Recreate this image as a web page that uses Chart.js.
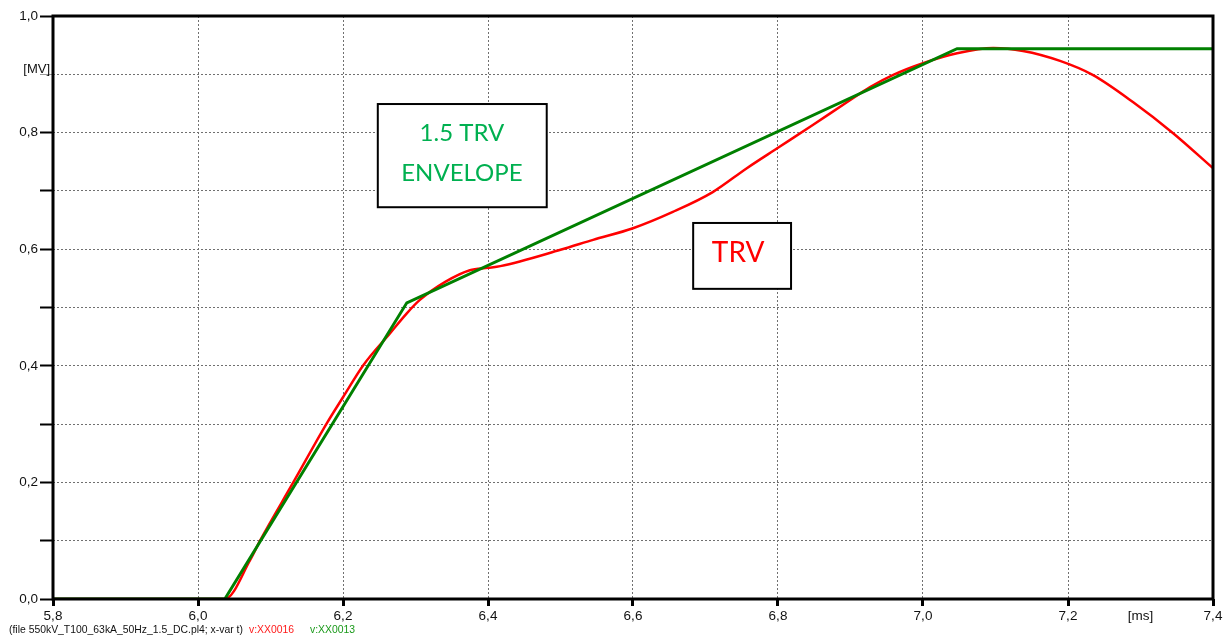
<!DOCTYPE html>
<html>
<head>
<meta charset="utf-8">
<script src="https://cdn.jsdelivr.net/npm/chart.js@4.4.1/dist/chart.umd.min.js"></script>
<style>
  html, body { margin: 0; padding: 0; background: #fff; }
  #wrap { width: 1226px; height: 639px; position: relative; }
</style>
</head>
<body>
<div id="wrap"><canvas id="c" width="1226" height="639"></canvas></div>
<script>
// Time axis [ms] and voltage [MV]
const tEnvelope = [5.8, 6.037, 6.288, 7.047, 7.4];
const vEnvelope = [0, 0, 0.508, 0.944, 0.944];

const tTrv = [5.8, 6.037, 6.072, 6.086, 6.131, 6.178, 6.2, 6.228, 6.265, 6.288, 6.306, 6.341, 6.375,
  6.4, 6.417, 6.5, 6.545, 6.6, 6.655, 6.71, 6.757, 6.8, 6.848, 6.895, 6.927, 6.959, 7.0,
  7.047, 7.097, 7.138, 7.189, 7.234, 7.29, 7.345, 7.4];
const vTrv = [0, 0, 0.067, 0.101, 0.199, 0.302, 0.346, 0.401, 0.456, 0.49, 0.513, 0.544, 0.564,
  0.568, 0.571, 0.599, 0.616, 0.636, 0.664, 0.698, 0.739, 0.774, 0.813, 0.852, 0.878, 0.899, 0.919,
  0.936, 0.945, 0.940, 0.923, 0.899, 0.852, 0.799, 0.739];

const xLabels = { 58: '5,8', 60: '6,0', 62: '6,2', 64: '6,4', 66: '6,6', 68: '6,8', 70: '7,0', 72: '7,2', 73: '[ms]', 74: '7,4' };
const yLabels = { 0: '0,0', 2: '0,2', 4: '0,4', 6: '0,6', 8: '0,8', 10: '1,0' };
const yUnit = '[MV]';

const footerParts = [
  { text: '(file 550kV_T100_63kA_50Hz_1.5_DC.pl4; x-var t)', color: '#111', x: 9 },
  { text: 'v:XX0016', color: '#ff1a1a', x: 249 },
  { text: 'v:XX0013', color: '#1a9a1a', x: 310 }
];

const toPts = (xs, ys) => xs.map((x, i) => ({ x, y: ys[i] }));

const GRID = '#707070';
const FONT = '"Liberation Sans", Arial, sans-serif';

// frame, unit label, annotation boxes and footer line
const decor = {
  id: 'decor',
  afterDatasetsDraw(chart) {
    const { ctx, chartArea: a, scales: { x, y } } = chart;
    ctx.save();
    ctx.strokeStyle = '#000';
    ctx.lineWidth = 3;
    ctx.strokeRect(a.left, a.top, a.right - a.left, a.bottom - a.top);

    ctx.font = '13px ' + FONT;
    ctx.fillStyle = '#111';
    ctx.textAlign = 'right';
    ctx.textBaseline = 'middle';
    ctx.fillText(yUnit, a.left - 3, y.getPixelForValue(0.9) - 5);

    const box = (t0, t1, v0, v1) => {
      const l = x.getPixelForValue(t0), r = x.getPixelForValue(t1);
      const tp = y.getPixelForValue(v1), b = y.getPixelForValue(v0);
      ctx.fillStyle = '#fff';
      ctx.fillRect(l, tp, r - l, b - tp);
      ctx.lineWidth = 2;
      ctx.strokeStyle = '#000';
      ctx.strokeRect(l, tp, r - l, b - tp);
    };
    const txt = (s, t, v, size, color) => {
      ctx.font = size + 'px Lato, "Open Sans", sans-serif';
      ctx.fillStyle = color;
      ctx.textAlign = 'center';
      ctx.textBaseline = 'middle';
      ctx.fillText(s, x.getPixelForValue(t), y.getPixelForValue(v));
    };
    box(6.248, 6.481, 0.672, 0.849);
    txt('1.5 TRV', 6.364, 0.799, 24, '#00b050');
    txt('ENVELOPE', 6.364, 0.731, 24, '#00b050');
    box(6.683, 6.818, 0.532, 0.645);
    txt('TRV', 6.745, 0.593, 28, '#ff0000');

    ctx.font = '10.4px ' + FONT;
    ctx.textAlign = 'left';
    ctx.textBaseline = 'middle';
    footerParts.forEach(p => {
      ctx.fillStyle = p.color;
      ctx.fillText(p.text, p.x, 630);
    });
    ctx.restore();
  }
};

new Chart(document.getElementById('c'), {
  type: 'line',
  data: {
    datasets: [
      {
        label: 'v:XX0013',
        data: toPts(tEnvelope, vEnvelope),
        borderColor: '#008000',
        borderWidth: 3,
        pointRadius: 0,
        tension: 0
      },
      {
        label: 'v:XX0016',
        data: toPts(tTrv, vTrv),
        borderColor: '#ff0000',
        borderWidth: 2.5,
        pointRadius: 0,
        cubicInterpolationMode: 'monotone'
      }
    ]
  },
  options: {
    responsive: false,
    devicePixelRatio: 1,
    animation: false,
    layout: { padding: { left: 0, right: 13, top: 16, bottom: 0 } },
    plugins: { legend: { display: false }, tooltip: { enabled: false } },
    scales: {
      x: {
        type: 'linear',
        min: 5.8, max: 7.4,
        afterFit(s) { s.height = 40; },
        afterBuildTicks(s) {
          s.ticks = [];
          for (let k = 58; k <= 74; k++) s.ticks.push({ value: k / 10 });
        },
        ticks: {
          autoSkip: false, maxRotation: 0, padding: 2,
          color: '#111', font: { family: FONT, size: 13.5 },
          callback: v => xLabels[Math.round(v * 10)] || ''
        },
        grid: {
          color: c => {
            const k = Math.round(c.tick.value * 10);
            return (k % 2 === 0 && k !== 58 && k !== 74) ? GRID : 'rgba(0,0,0,0)';
          },
          tickColor: c => (Math.round(c.tick.value * 10) % 2 === 0 ? '#000' : 'rgba(0,0,0,0)'),
          tickLength: 7, tickWidth: 3, tickBorderDash: [], lineWidth: 1
        },
        border: { display: false, dash: [2, 2] }
      },
      y: {
        min: 0, max: 1,
        afterFit(s) { s.width = 53; },
        afterBuildTicks(s) {
          s.ticks = [];
          for (let k = 0; k <= 10; k++) s.ticks.push({ value: k / 10 });
        },
        ticks: {
          autoSkip: false, padding: 2,
          color: '#111', font: { family: FONT, size: 13.5 },
          callback: v => yLabels[Math.round(v * 10)] || ''
        },
        grid: {
          color: c => {
            const k = Math.round(c.tick.value * 10);
            return (k !== 0 && k !== 10) ? GRID : 'rgba(0,0,0,0)';
          },
          tickColor: c => (Math.round(c.tick.value * 10) === 9 ? '#999' : '#000'),
          tickWidth: c => (Math.round(c.tick.value * 10) === 9 ? 1 : 2),
          tickLength: 13, tickBorderDash: [], lineWidth: 1
        },
        border: { display: false, dash: [2, 2] }
      }
    }
  },
  plugins: [decor]
});
</script>
</body>
</html>
